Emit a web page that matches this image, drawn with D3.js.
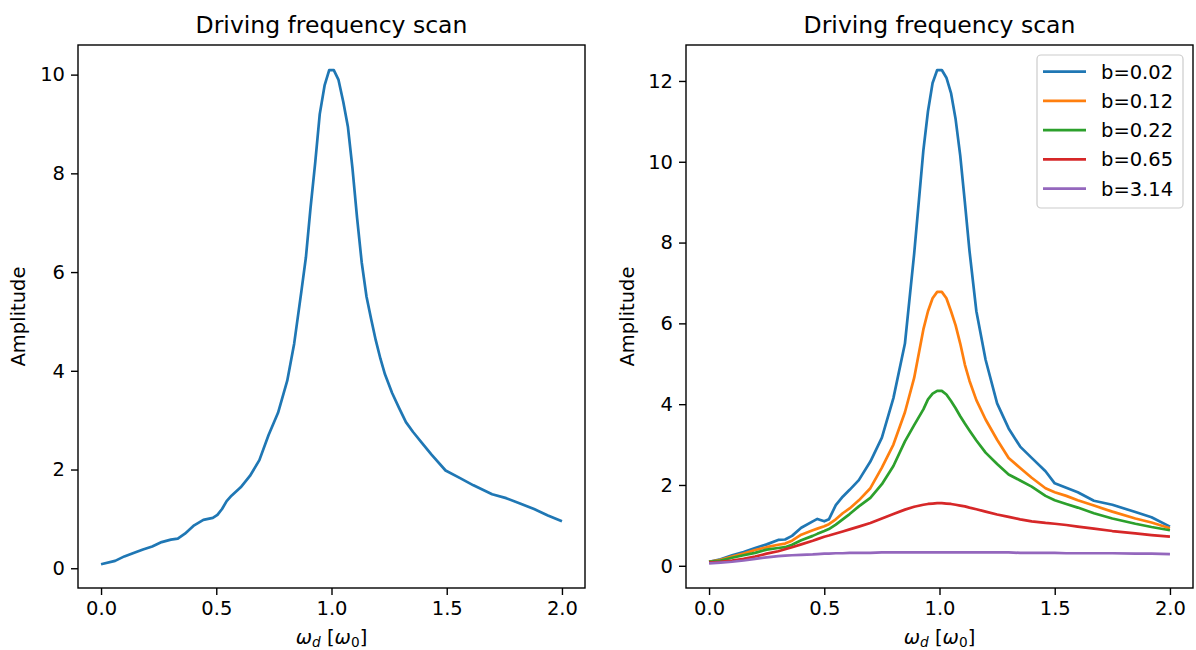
<!DOCTYPE html>
<html>
<head>
<meta charset="utf-8">
<script src="https://cdn.jsdelivr.net/npm/d3@7"></script>
<style>
  html, body { margin: 0; padding: 0; background: #fff; }
  svg { display: block; font-family: "DejaVu Sans", sans-serif; }
</style>
</head>
<body>
<svg id="fig" width="1196" height="650"></svg>
<script>
// ---- single-oscillator scan (left panel) ----
const leftFreq = [0, 0.061, 0.101, 0.141, 0.182, 0.222, 0.263, 0.303, 0.333, 0.364, 0.404, 0.444,
  0.485, 0.505, 0.525, 0.545, 0.566, 0.606, 0.646, 0.687, 0.727, 0.768, 0.808, 0.838, 0.869, 0.889,
  0.909, 0.929, 0.949, 0.970, 0.990, 1.010, 1.030, 1.051, 1.071, 1.091, 1.111, 1.131, 1.152, 1.172,
  1.192, 1.212, 1.232, 1.263, 1.293, 1.323, 1.354, 1.394, 1.434, 1.495, 1.556, 1.616, 1.697, 1.758,
  1.818, 1.879, 1.939, 2.000];
const leftAmp = [0.08, 0.15, 0.24, 0.31, 0.38, 0.44, 0.53, 0.58, 0.60, 0.70, 0.87, 0.98,
  1.02, 1.08, 1.20, 1.36, 1.47, 1.64, 1.87, 2.19, 2.70, 3.15, 3.80, 4.55, 5.60, 6.30,
  7.30, 8.20, 9.20, 9.78, 10.09, 10.09, 9.90, 9.45, 8.95, 8.10, 7.10, 6.20, 5.50, 5.05,
  4.62, 4.25, 3.93, 3.55, 3.25, 2.96, 2.76, 2.53, 2.30, 1.98, 1.83, 1.68, 1.50, 1.42,
  1.31, 1.20, 1.07, 0.95];

// ---- damping comparison (right panel) ----
const rightFreq = [0, 0.05, 0.1, 0.15, 0.2, 0.25, 0.3, 0.33, 0.36, 0.4, 0.45, 0.47, 0.5, 0.52,
  0.55, 0.58, 0.61, 0.65, 0.7, 0.75, 0.8, 0.85, 0.89, 0.93, 0.95, 0.97, 0.99, 1.01, 1.03, 1.05,
  1.07, 1.09, 1.11, 1.13, 1.16, 1.2, 1.25, 1.3, 1.35, 1.4, 1.46, 1.5, 1.55, 1.6, 1.67, 1.75,
  1.85, 1.92, 2.0];
const dampingLabels = ["b=0.02", "b=0.12", "b=0.22", "b=0.65", "b=3.14"];
const ampB002 = [0.10, 0.16, 0.26, 0.34, 0.44, 0.53, 0.64, 0.65, 0.74, 0.94, 1.10, 1.16, 1.10, 1.15,
  1.50, 1.71, 1.88, 2.12, 2.58, 3.17, 4.15, 5.50, 7.72, 10.28, 11.25, 11.95, 12.27, 12.27, 12.08, 11.70,
  11.05, 10.15, 9.00, 7.80, 6.30, 5.10, 4.02, 3.40, 2.95, 2.67, 2.34, 2.04, 1.93, 1.82, 1.61, 1.51,
  1.33, 1.20, 0.97];
const ampB012 = [0.10, 0.15, 0.23, 0.30, 0.39, 0.46, 0.52, 0.55, 0.62, 0.77, 0.88, 0.92, 0.98, 1.03,
  1.15, 1.30, 1.42, 1.62, 1.92, 2.43, 3.00, 3.80, 4.65, 5.85, 6.30, 6.62, 6.78, 6.78, 6.62, 6.30,
  5.95, 5.50, 4.98, 4.58, 4.10, 3.62, 3.12, 2.67, 2.42, 2.18, 1.92, 1.82, 1.73, 1.62, 1.49, 1.34,
  1.17, 1.07, 0.93];
const ampB022 = [0.10, 0.13, 0.20, 0.26, 0.32, 0.40, 0.44, 0.46, 0.52, 0.63, 0.74, 0.79, 0.86, 0.91,
  1.02, 1.15, 1.28, 1.47, 1.68, 2.02, 2.47, 3.08, 3.48, 3.87, 4.12, 4.26, 4.33, 4.33, 4.24, 4.08,
  3.90, 3.70, 3.52, 3.35, 3.10, 2.80, 2.52, 2.26, 2.11, 1.96, 1.73, 1.62, 1.53, 1.44, 1.30, 1.17,
  1.04, 0.96, 0.88];
const ampB065 = [0.08, 0.10, 0.13, 0.17, 0.23, 0.30, 0.36, 0.41, 0.46, 0.53, 0.62, 0.66, 0.72, 0.75,
  0.80, 0.85, 0.90, 0.97, 1.06, 1.17, 1.28, 1.39, 1.46, 1.51, 1.53, 1.54, 1.55, 1.55, 1.54, 1.53,
  1.51, 1.49, 1.47, 1.44, 1.40, 1.34, 1.27, 1.21, 1.15, 1.10, 1.06, 1.04, 1.01, 0.97, 0.92, 0.86,
  0.80, 0.76, 0.72];
const ampB314 = [0.06, 0.08, 0.10, 0.13, 0.17, 0.21, 0.24, 0.25, 0.26, 0.27, 0.28, 0.29, 0.30, 0.30,
  0.31, 0.31, 0.32, 0.32, 0.32, 0.33, 0.33, 0.33, 0.33, 0.33, 0.33, 0.33, 0.33, 0.33, 0.33, 0.33,
  0.33, 0.33, 0.33, 0.33, 0.33, 0.33, 0.33, 0.33, 0.32, 0.32, 0.32, 0.32, 0.31, 0.31, 0.31, 0.31,
  0.30, 0.30, 0.29];
const rightSeries = [ampB002, ampB012, ampB022, ampB065, ampB314];

const xTicks = [0, 0.5, 1.0, 1.5, 2.0];
const leftYTicks = [0, 2, 4, 6, 8, 10];
const rightYTicks = [0, 2, 4, 6, 8, 10, 12];
const palette = ["#1f77b4", "#ff7f0e", "#2ca02c", "#d62728", "#9467bd"];

const svg = d3.select("#fig");
const TICK_FONT = 19.5, TITLE_FONT = 23.5, TICK_LEN = 7, TICK_PAD = 6;

function drawPanel(box, yDomain, yTicks, series) {
  const x = d3.scaleLinear().domain([-0.1, 2.1]).range([box.left, box.right]);
  const y = d3.scaleLinear().domain(yDomain).range([box.bottom, box.top]);
  const g = svg.append("g");

  // data lines, clipped to the axes area
  const clipId = "clip" + Math.round(box.left);
  svg.append("clipPath").attr("id", clipId).append("rect")
    .attr("x", box.left).attr("y", box.top)
    .attr("width", box.right - box.left).attr("height", box.bottom - box.top);
  const line = d3.line().x(d => x(d[0])).y(d => y(d[1]));
  const lines = g.append("g").attr("clip-path", `url(#${clipId})`);
  series.forEach(s => {
    lines.append("path")
      .attr("d", line(s.freq.map((f, i) => [f, s.amp[i]])))
      .attr("fill", "none").attr("stroke", s.color).attr("stroke-width", 2.7)
      .attr("stroke-linejoin", "round").attr("stroke-linecap", "butt");
  });

  // axes
  const xAxis = d3.axisBottom(x).tickValues(xTicks).tickFormat(d3.format(".1f"))
    .tickSize(TICK_LEN).tickPadding(TICK_PAD);
  const yAxis = d3.axisLeft(y).tickValues(yTicks).tickFormat(d3.format("d"))
    .tickSize(TICK_LEN).tickPadding(TICK_PAD);
  const gx = g.append("g").attr("transform", `translate(0,${box.bottom})`).call(xAxis);
  const gy = g.append("g").attr("transform", `translate(${box.left},0)`).call(yAxis);
  [gx, gy].forEach(a => {
    a.select(".domain").remove();
    a.selectAll(".tick line").attr("stroke", "#000").attr("stroke-width", 1.4);
    a.selectAll(".tick text").attr("fill", "#000").attr("font-size", TICK_FONT)
      .attr("font-family", "DejaVu Sans");
  });

  // frame
  g.append("rect").attr("x", box.left).attr("y", box.top)
    .attr("width", box.right - box.left).attr("height", box.bottom - box.top)
    .attr("fill", "none").attr("stroke", "#000").attr("stroke-width", 1.4);

  const cx = (box.left + box.right) / 2;
  g.append("text").attr("x", cx).attr("y", 33).attr("text-anchor", "middle")
    .attr("font-size", TITLE_FONT).attr("fill", "#000").text("Driving frequency scan");

  // x label: omega_d [omega_0]
  const xl = g.append("text").attr("x", cx).attr("y", 644).attr("text-anchor", "middle")
    .attr("font-size", TICK_FONT).attr("fill", "#000");
  xl.append("tspan").attr("font-style", "italic").text("ω");
  xl.append("tspan").attr("font-style", "italic").attr("font-size", TICK_FONT * 0.7)
    .attr("dy", 3).text("d");
  xl.append("tspan").attr("dy", -3).text(" [");
  xl.append("tspan").attr("font-style", "italic").text("ω");
  xl.append("tspan").attr("font-size", TICK_FONT * 0.7).attr("dy", 3).text("0");
  xl.append("tspan").attr("dy", -3).text("]");

  g.append("text")
    .attr("transform", `translate(${box.left - box.ylabelOffset},${(box.top + box.bottom) / 2}) rotate(-90)`)
    .attr("text-anchor", "middle").attr("font-size", TICK_FONT).attr("fill", "#000")
    .text("Amplitude");
  return { x, y, g };
}

drawPanel({ left: 78, right: 585, top: 45, bottom: 588, ylabelOffset: 53 },
  [-0.4, 10.6], leftYTicks,
  [{ freq: leftFreq, amp: leftAmp, color: palette[0] }]);

drawPanel({ left: 686, right: 1193, top: 45, bottom: 588, ylabelOffset: 52 },
  [-0.55, 12.89], rightYTicks,
  rightSeries.map((amp, i) => ({ freq: rightFreq, amp, color: palette[i] })));

// legend for the damping comparison
const legend = svg.append("g");
legend.append("rect").attr("x", 1037).attr("y", 55).attr("width", 146).attr("height", 153)
  .attr("rx", 4).attr("fill", "#fff").attr("fill-opacity", 0.8)
  .attr("stroke", "#cccccc").attr("stroke-width", 1.2);
dampingLabels.forEach((lab, i) => {
  const yy = 71.7 + i * 29.25;
  legend.append("line").attr("x1", 1043).attr("x2", 1086).attr("y1", yy).attr("y2", yy)
    .attr("stroke", palette[i]).attr("stroke-width", 2.7);
  legend.append("text").attr("x", 1101).attr("y", yy).attr("dy", "0.36em")
    .attr("font-size", TICK_FONT).attr("fill", "#000").text(lab);
});
</script>
</body>
</html>
